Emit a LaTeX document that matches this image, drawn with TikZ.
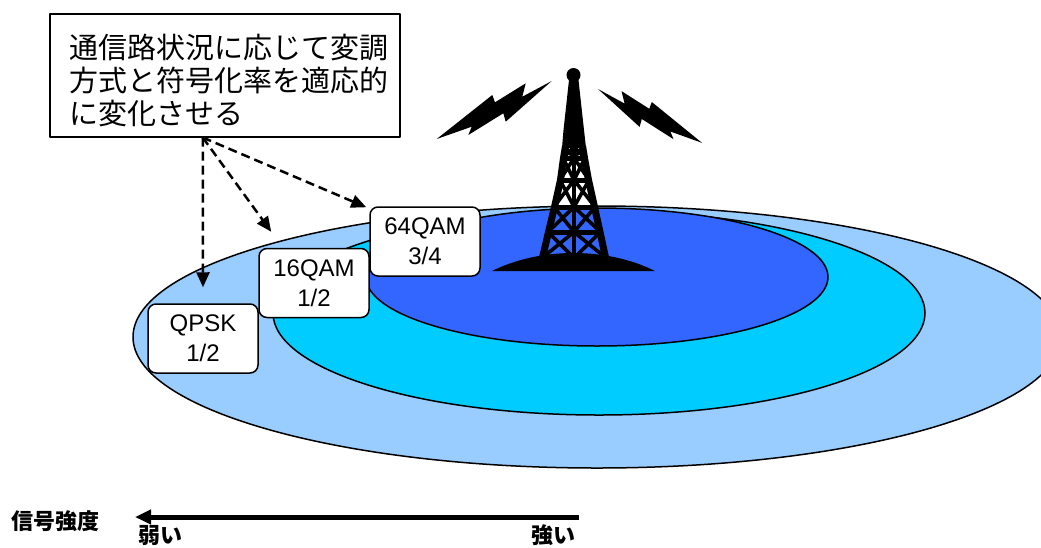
\documentclass[tikz,border=0pt]{standalone}
\usepackage{fontspec}
\setmainfont{Liberation Sans}
\newfontfamily\jpfont{Noto Sans CJK JP}
\usetikzlibrary{arrows.meta,calc}
\definecolor{ringout}{HTML}{99CCFF}
\definecolor{ringmid}{HTML}{00CCFF}
\definecolor{ringin}{HTML}{3366FF}

\begin{document}
\begin{tikzpicture}[x=1pt,y=-1pt,line join=round,
  ring/.style={draw=black,line width=1.5pt},
  modbox/.style={draw=black,line width=1.5pt,rounded corners=8pt,fill=white,
    minimum width=110pt,minimum height=69pt,inner sep=0pt,align=center,
    font=\fontsize{24}{30}\selectfont},
  notebox/.style={draw=black,line width=1.5pt,fill=white,anchor=north west,
    minimum width=350pt,minimum height=123pt,inner xsep=20pt,align=left,
    font=\jpfont\fontsize{29}{33}\selectfont},
  hint/.style={line width=2.5pt,dash pattern=on 9pt off 5pt,
    -{Triangle[length=15pt,width=13pt]}},
  legline/.style={line width=7pt,line cap=butt},
  barline/.style={line width=5pt},
  braceline/.style={line width=3.6pt},
  axislabel/.style={font=\jpfont\bfseries\fontsize{22}{24}\selectfont,inner sep=0pt}]
\useasboundingbox (0,0) rectangle (1041,547);

% coverage rings, from the weakest signal area inwards
\draw[ring,fill=ringout] (597,337) ellipse [x radius=464,y radius=131];
\draw[ring,fill=ringmid] (599,313) ellipse [x radius=326,y radius=102];
\draw[ring,fill=ringin]  (597,277) ellipse [x radius=231,y radius=69];

% radio waves
\fill (436.7,139) -- (492.3,95) -- (495,102.3) -- (525.7,83.3) -- (522.3,96.7)
  -- (551.7,81) -- (505.7,121.7) -- (503.3,113.3) -- (468.3,135) -- (471.7,126.7) -- cycle;
\fill (702.1,142.9) -- (651.8,102) -- (649.3,108.8) -- (621.5,91.1) -- (624.6,103.6)
  -- (598,89) -- (639.6,126.9) -- (641.8,119) -- (673.5,139.2) -- (670.4,131.5) -- cycle;

% transmitter tower
\fill (492,271) .. controls (540,247) and (607,247) .. (655,271) -- cycle;
\fill (573.5,75) circle [radius=7];
\fill (569,80) -- (578.5,80) -- (584,130) -- (586,148) -- (562,148) -- (563.5,130) -- cycle;
\draw[legline] (565.5,146) -- (563.5,158) -- (560.5,180) -- (554.5,207) -- (548.5,232) -- (541.5,262);
\draw[legline] (582.5,146) -- (584.5,158) -- (588.5,180) -- (594.5,207) -- (600,232) -- (606.5,262);
\draw[braceline] (574,146) -- (574,262);
\foreach \yy/\xl/\xr in {158/563/585,180/560/589,207/554/595,232/548/600.5}
  \draw[barline] (\xl,\yy) -- (\xr,\yy);
\foreach \ya/\la/\ra/\yb/\lb/\rb in {
    147/565/583/158/563/585,
    158/563/585/180/560/589,
    180/560/589/207/554/595,
    207/554/595/232/548/600.5,
    232/548/600.5/258/542/606}
  \draw[braceline] (\la,\ya) -- (574,\yb) (574,\ya) -- (\lb,\yb)
                   (\ra,\ya) -- (574,\yb) (574,\ya) -- (\rb,\yb);

% modulation scheme and coding rate per ring
\node[modbox] (m64) at (425,241.5) {64QAM\\3/4};
\node[modbox] (m16) at (314,283) {16QAM\\1/2};
\node[modbox] (mqp) at (203,338.5) {QPSK\\1/2};

% explanation
\node[notebox] (note) at (49,13) {%
  \rule{0pt}{34pt}\makebox[310pt][l]{通信路状況に応じて変調}\\
  \makebox[310pt][l]{方式と符号化率を適応的}\\
  \makebox[310pt][l]{に変化させる}};
\coordinate (src) at ([xshift=-22pt]note.south);
\draw[hint] (src) -- ([yshift=16pt]mqp.north);
\draw[hint] (src) -- ([xshift=13pt,yshift=16pt]m16.north west);
\draw[hint] (src) -- ([xshift=-3pt,yshift=-1pt]m64.north west);

% signal strength scale
\node[axislabel] (sig) at (56,521) {信号強度};
\node[axislabel] (weak) at (160,535) {弱い};
\node[axislabel] (strong) at (553,535) {強い};
\coordinate (strongend) at (579,517);
\coordinate (weakend) at (135,517);
\draw[line width=5pt,-{Triangle[length=16pt,width=14pt]}] (strongend) -- (weakend);
\end{tikzpicture}
\end{document}
